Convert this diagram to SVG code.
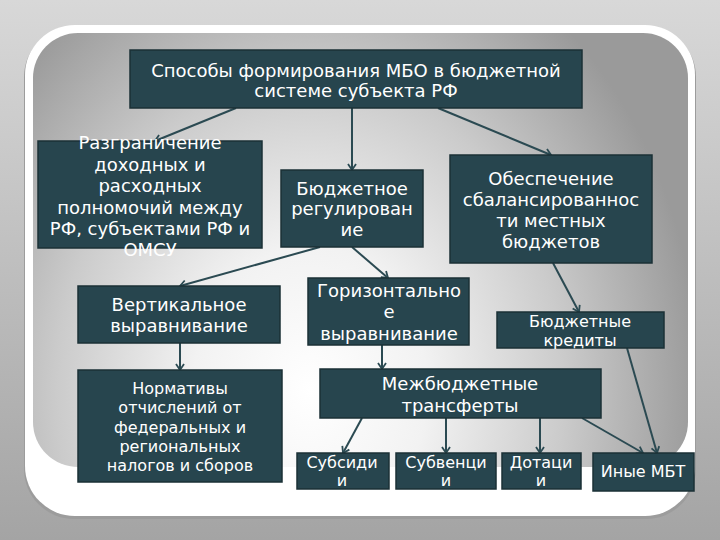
<svg xmlns="http://www.w3.org/2000/svg" width="720" height="540" viewBox="0 0 720 540">
  <defs>
    <linearGradient id="bg" x1="0" y1="0" x2="0" y2="1">
      <stop offset="0" stop-color="#d8d8d8"/>
      <stop offset="1" stop-color="#a4a4a4"/>
    </linearGradient>
    <radialGradient id="inner" gradientUnits="userSpaceOnUse" cx="0" cy="0" r="1" gradientTransform="translate(310 390) scale(390 480)">
      <stop offset="0" stop-color="#ffffff"/>
      <stop offset="0.3" stop-color="#f2f2f2"/>
      <stop offset="0.65" stop-color="#cbcbcb"/>
      <stop offset="1" stop-color="#9a9a9a"/>
    </radialGradient>
    <marker id="arr" markerUnits="userSpaceOnUse" markerWidth="12" markerHeight="12" refX="8" refY="6" orient="auto">
      <path d="M2,2 L8,6 L2,10" fill="none" stroke="#2b4a52" stroke-width="1.8"/>
    </marker>
    <style>
      .box { fill: #27454e; stroke: #1b3036; stroke-width: 1.5; }
      .t { fill: #ffffff; font-family: "DejaVu Sans", Verdana, sans-serif; font-size: 18px; text-anchor: middle; }
      .s { font-size: 16px; }
      .c { fill: none; stroke: #2b4a52; stroke-width: 2; marker-end: url(#arr); }
    </style>
  </defs>

  <rect x="0" y="0" width="720" height="540" fill="url(#bg)"/>
  <rect x="24" y="27" width="672" height="492" rx="50" fill="#9c9c9c"/>
  <rect x="25" y="25" width="670" height="491" rx="50" fill="#ffffff"/>
  <rect x="33" y="33" width="655" height="434" rx="45" fill="url(#inner)"/>

  <g id="connectors">
    <line class="c" x1="236" y1="108" x2="155" y2="141"/>
    <line class="c" x1="352" y1="108" x2="352" y2="170"/>
    <line class="c" x1="438" y1="108" x2="551" y2="155"/>
    <line class="c" x1="320" y1="247" x2="180" y2="286"/>
    <line class="c" x1="352" y1="247" x2="388" y2="278"/>
    <line class="c" x1="553" y1="263" x2="579" y2="312"/>
    <line class="c" x1="180" y1="343" x2="180" y2="370"/>
    <line class="c" x1="382" y1="345" x2="382" y2="369"/>
    <line class="c" x1="362" y1="418" x2="343" y2="453"/>
    <line class="c" x1="446" y1="418" x2="446" y2="453"/>
    <line class="c" x1="540" y1="418" x2="540" y2="453"/>
    <line class="c" x1="582" y1="418" x2="643" y2="453"/>
    <line class="c" x1="627" y1="348" x2="657" y2="453"/>
  </g>

  <g id="n1">
    <rect class="box" x="130" y="50" width="452" height="58"/>
    <text class="t" x="356" y="77">Способы формирования МБО в бюджетной</text>
    <text class="t" x="356" y="97">системе субъекта РФ</text>
  </g>
  <g id="n2">
    <rect class="box" x="38" y="141" width="224" height="107"/>
    <text class="t" x="150" y="149">Разграничение</text>
    <text class="t" x="150" y="170.5">доходных и</text>
    <text class="t" x="150" y="192">расходных</text>
    <text class="t" x="150" y="213.5">полномочий между</text>
    <text class="t" x="150" y="235">РФ, субъектами РФ и</text>
    <text class="t" x="150" y="256">ОМСУ</text>
  </g>
  <g id="n3">
    <rect class="box" x="281" y="170" width="142" height="77"/>
    <text class="t" x="352" y="195">Бюджетное</text>
    <text class="t" x="352" y="215">регулирован</text>
    <text class="t" x="352" y="236">ие</text>
  </g>
  <g id="n4">
    <rect class="box" x="450" y="155" width="202" height="108"/>
    <text class="t" x="551" y="185">Обеспечение</text>
    <text class="t" x="551" y="206">сбалансированнос</text>
    <text class="t" x="551" y="227">ти местных</text>
    <text class="t" x="551" y="248">бюджетов</text>
  </g>
  <g id="n5">
    <rect class="box" x="78" y="286" width="202" height="57"/>
    <text class="t" x="179" y="311">Вертикальное</text>
    <text class="t" x="179" y="332">выравнивание</text>
  </g>
  <g id="n6">
    <rect class="box" x="308" y="278" width="161" height="67"/>
    <text class="t" x="389" y="297">Горизонтально</text>
    <text class="t" x="389" y="318">е</text>
    <text class="t" x="389" y="340">выравнивание</text>
  </g>
  <g id="n7">
    <rect class="box" x="497" y="312" width="167" height="36"/>
    <text class="t s" x="580" y="327">Бюджетные</text>
    <text class="t s" x="580" y="346">кредиты</text>
  </g>
  <g id="n8">
    <rect class="box" x="78" y="370" width="204" height="112"/>
    <text class="t s" x="180" y="394">Нормативы</text>
    <text class="t s" x="180" y="413">отчислений от</text>
    <text class="t s" x="180" y="433">федеральных и</text>
    <text class="t s" x="180" y="452">региональных</text>
    <text class="t s" x="180" y="471">налогов и сборов</text>
  </g>
  <g id="n9">
    <rect class="box" x="320" y="369" width="281" height="49"/>
    <text class="t" x="460" y="390">Межбюджетные</text>
    <text class="t" x="460" y="412">трансферты</text>
  </g>
  <g id="n10">
    <rect class="box" x="297" y="453" width="92" height="36"/>
    <text class="t s" x="342" y="468">Субсиди</text>
    <text class="t s" x="342" y="486">и</text>
  </g>
  <g id="n11">
    <rect class="box" x="396" y="453" width="100" height="36"/>
    <text class="t s" x="446" y="468">Субвенци</text>
    <text class="t s" x="446" y="486">и</text>
  </g>
  <g id="n12">
    <rect class="box" x="502" y="453" width="79" height="36"/>
    <text class="t s" x="541" y="468">Дотаци</text>
    <text class="t s" x="541" y="486">и</text>
  </g>
  <g id="n13">
    <rect class="box" x="593" y="453" width="101" height="38"/>
    <text class="t s" x="643" y="477">Иные МБТ</text>
  </g>
</svg>
